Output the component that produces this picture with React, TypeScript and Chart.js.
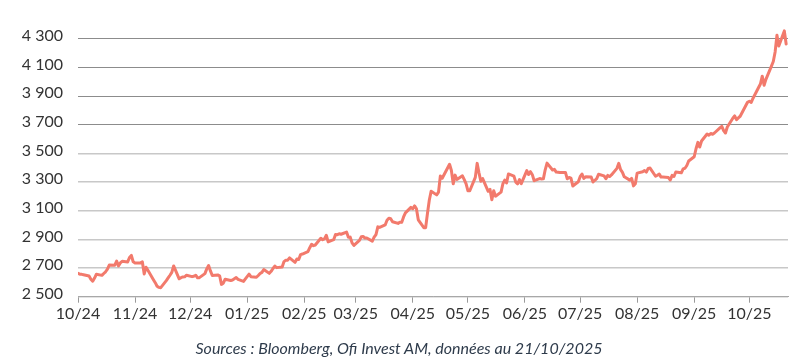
import React, { useEffect, useRef } from "react";
import { Chart, registerables } from "chart.js";

Chart.register(...registerables);

// Trading days (YYYY-MM-DD)
const tradingDays: string[] = [
  // 2024-10
  "2024-10-01","2024-10-02","2024-10-03","2024-10-04","2024-10-07","2024-10-08","2024-10-09","2024-10-10","2024-10-11","2024-10-14","2024-10-15","2024-10-16","2024-10-17","2024-10-18","2024-10-21","2024-10-22","2024-10-23","2024-10-24","2024-10-25","2024-10-28","2024-10-29","2024-10-30","2024-10-31",
  // 2024-11
  "2024-11-01","2024-11-04","2024-11-05","2024-11-06","2024-11-07","2024-11-08","2024-11-11","2024-11-12","2024-11-13","2024-11-14","2024-11-15","2024-11-18","2024-11-19","2024-11-20","2024-11-21","2024-11-22","2024-11-25","2024-11-26","2024-11-27","2024-11-28","2024-11-29",
  // 2024-12
  "2024-12-02","2024-12-03","2024-12-04","2024-12-05","2024-12-06","2024-12-09","2024-12-10","2024-12-11","2024-12-12","2024-12-13","2024-12-16","2024-12-17","2024-12-18","2024-12-19","2024-12-20","2024-12-23","2024-12-24","2024-12-26","2024-12-27","2024-12-30","2024-12-31",
  // 2025-01
  "2025-01-02","2025-01-03","2025-01-06","2025-01-07","2025-01-08","2025-01-09","2025-01-10","2025-01-13","2025-01-14","2025-01-15","2025-01-16","2025-01-17","2025-01-20","2025-01-21","2025-01-22","2025-01-23","2025-01-24","2025-01-27","2025-01-28","2025-01-29","2025-01-30","2025-01-31",
  // 2025-02
  "2025-02-03","2025-02-04","2025-02-05","2025-02-06","2025-02-07","2025-02-10","2025-02-11","2025-02-12","2025-02-13","2025-02-14","2025-02-17","2025-02-18","2025-02-19","2025-02-20","2025-02-21","2025-02-24","2025-02-25","2025-02-26","2025-02-27","2025-02-28",
  // 2025-03
  "2025-03-03","2025-03-04","2025-03-05","2025-03-06","2025-03-07","2025-03-10","2025-03-11","2025-03-12","2025-03-13","2025-03-14","2025-03-17","2025-03-18","2025-03-19","2025-03-20","2025-03-21","2025-03-24","2025-03-25","2025-03-26","2025-03-27","2025-03-28","2025-03-31",
  // 2025-04
  "2025-04-01","2025-04-02","2025-04-03","2025-04-04","2025-04-07","2025-04-08","2025-04-09","2025-04-10","2025-04-11","2025-04-14","2025-04-15","2025-04-16","2025-04-17","2025-04-21","2025-04-22","2025-04-23","2025-04-24","2025-04-25","2025-04-28","2025-04-29","2025-04-30",
  // 2025-05
  "2025-05-01","2025-05-02","2025-05-05","2025-05-06","2025-05-07","2025-05-08","2025-05-09","2025-05-12","2025-05-13","2025-05-14","2025-05-15","2025-05-16","2025-05-19","2025-05-20","2025-05-21","2025-05-22","2025-05-23","2025-05-26","2025-05-27","2025-05-28","2025-05-29","2025-05-30",
  // 2025-06
  "2025-06-02","2025-06-03","2025-06-04","2025-06-05","2025-06-06","2025-06-09","2025-06-10","2025-06-11","2025-06-12","2025-06-13","2025-06-16","2025-06-17","2025-06-18","2025-06-19","2025-06-20","2025-06-23","2025-06-24","2025-06-25","2025-06-26","2025-06-27","2025-06-30",
  // 2025-07
  "2025-07-01","2025-07-02","2025-07-03","2025-07-04","2025-07-07","2025-07-08","2025-07-09","2025-07-10","2025-07-11","2025-07-14","2025-07-15","2025-07-16","2025-07-17","2025-07-18","2025-07-21","2025-07-22","2025-07-23","2025-07-24","2025-07-25","2025-07-28","2025-07-29","2025-07-30","2025-07-31",
  // 2025-08
  "2025-08-01","2025-08-04","2025-08-05","2025-08-06","2025-08-07","2025-08-08","2025-08-11","2025-08-12","2025-08-13","2025-08-14","2025-08-15","2025-08-18","2025-08-19","2025-08-20","2025-08-21","2025-08-22","2025-08-25","2025-08-26","2025-08-27","2025-08-28","2025-08-29",
  // 2025-09
  "2025-09-01","2025-09-02","2025-09-03","2025-09-04","2025-09-05","2025-09-08","2025-09-09","2025-09-10","2025-09-11","2025-09-12","2025-09-15","2025-09-16","2025-09-17","2025-09-18","2025-09-19","2025-09-22","2025-09-23","2025-09-24","2025-09-25","2025-09-26","2025-09-29","2025-09-30",
  // 2025-10
  "2025-10-01","2025-10-02","2025-10-03","2025-10-06","2025-10-07","2025-10-08","2025-10-09","2025-10-10","2025-10-13","2025-10-14","2025-10-15","2025-10-16","2025-10-17","2025-10-20","2025-10-21",
];

// Gold price (USD/oz), one value per trading day above
const goldPrices: number[] = [
  // 2024-10
  2663,2657,2656,2653,2644,2622,2608,2630,2657,2649,2662,2674,2693,2721,2720,2749,2715,2736,2747,2743,2774,2788,2744,
  // 2024-11
  2736,2736,2743,2659,2706,2685,2619,2598,2573,2565,2563,2612,2631,2650,2670,2715,2625,2633,2638,2639,2650,
  // 2024-12
  2640,2643,2650,2632,2633,2661,2694,2718,2680,2648,2652,2646,2586,2594,2622,2613,2617,2634,2621,2607,2625,
  // 2025-01
  2658,2640,2636,2648,2662,2670,2690,2663,2677,2697,2714,2703,2708,2745,2755,2755,2771,2740,2763,2760,2794,2798,
  // 2025-02
  2815,2842,2866,2856,2861,2908,2898,2904,2929,2883,2898,2935,2933,2939,2936,2951,2915,2916,2876,2858,
  // 2025-03
  2893,2918,2920,2910,2910,2888,2916,2934,2988,2984,3001,3034,3048,3044,3023,3012,3020,3019,3057,3085,3124,
  // 2025-04
  3114,3134,3114,3037,2982,2982,3083,3175,3237,3211,3230,3343,3327,3425,3381,3288,3349,3319,3344,3317,3288,
  // 2025-05
  3239,3240,3333,3431,3365,3306,3325,3236,3249,3177,3240,3202,3230,3289,3314,3294,3357,3342,3300,3288,3318,3289,
  // 2025-06
  3380,3353,3373,3352,3310,3325,3322,3323,3386,3433,3385,3389,3370,3369,3368,3368,3323,3333,3328,3273,3303,
  // 2025-07
  3338,3357,3326,3337,3336,3301,3313,3324,3355,3344,3324,3347,3339,3350,3396,3431,3387,3368,3337,3314,3326,3274,3289,
  // 2025-08
  3363,3373,3381,3370,3396,3398,3341,3348,3356,3335,3336,3332,3315,3347,3339,3371,3365,3393,3397,3416,3448,
  // 2025-09
  3477,3533,3578,3545,3587,3636,3627,3640,3634,3643,3679,3690,3660,3643,3685,3746,3763,3736,3749,3760,3833,3858,
  // 2025-10
  3865,3857,3886,3961,3985,4040,3976,4018,4110,4142,4209,4326,4251,4356,4265,
];

const monthTickDates: string[] = [
  "2024-10-01","2024-11-01","2024-12-01","2025-01-01","2025-02-01","2025-03-01","2025-04-01",
  "2025-05-01","2025-06-01","2025-07-01","2025-08-01","2025-09-01","2025-10-01",
];
const monthTickLabels: string[] = [
  "10/24","11/24","12/24","01/25","02/25","03/25","04/25","05/25","06/25","07/25","08/25","09/25","10/25",
];
const yTickValues: number[] = [2500, 2700, 2900, 3100, 3300, 3500, 3700, 3900, 4100, 4300];

const START_DATE = "2024-10-01";
const END_DATE = "2025-10-22";
const Y_MIN = 2500;
const Y_MAX = 4400;

const SOURCE_TEXT = "Sources : Bloomberg, Ofi Invest AM, données au 21/10/2025";

const LINE_COLOR = "#f27a6c";
const FONT = "Lato, 'Open Sans', sans-serif";

function toUTC(s: string): number {
  const [y, m, d] = s.split("-").map(Number);
  return Date.UTC(y, m - 1, d);
}
function dayIndex(s: string): number {
  return Math.round((toUTC(s) - toUTC(START_DATE)) / 86400000);
}
function fmtThousands(v: number): string {
  const th = Math.floor(v / 1000);
  const rest = String(Math.round(v % 1000)).padStart(3, "0");
  return th > 0 ? `${th} ${rest}` : String(v);
}

export default function App() {
  const canvasRef = useRef<HTMLCanvasElement | null>(null);

  useEffect(() => {
    const canvas = canvasRef.current;
    if (!canvas) return;
    const points = tradingDays.map((d, i) => ({ x: dayIndex(d), y: goldPrices[i] }));
    const chart = new Chart(canvas, {
      type: "line",
      data: {
        datasets: [
          {
            data: points,
            borderColor: LINE_COLOR,
            borderWidth: 3,
            pointRadius: 0,
            pointHoverRadius: 0,
            tension: 0,
            fill: false,
            borderJoinStyle: "round",
            borderCapStyle: "round",
          },
        ],
      },
      options: {
        responsive: false,
        animation: false,
        devicePixelRatio: 1,
        layout: { padding: { top: 20, right: 20, left: 0, bottom: 0 } },
        plugins: { legend: { display: false }, tooltip: { enabled: false } },
        scales: {
          x: {
            type: "linear",
            min: 0,
            max: dayIndex(END_DATE),
            afterBuildTicks: (s: any) => {
              s.ticks = monthTickDates.map((m) => ({ value: dayIndex(m) }));
            },
            afterFit: (s: any) => {
              s.height = 67.3;
            },
            grid: {
              display: true,
              drawOnChartArea: false,
              drawTicks: true,
              tickLength: 6,
              tickColor: "#9a9a9a",
              tickWidth: 1,
            },
            border: { display: true, color: "#a8a8a8", width: 1 },
            ticks: {
              autoSkip: false,
              maxRotation: 0,
              minRotation: 0,
              padding: 2,
              color: "#333333",
              font: { family: FONT, size: 16 },
              callback: (_v: any, i: number) => monthTickLabels[i],
            },
          },
          y: {
            type: "linear",
            min: Y_MIN,
            max: Y_MAX,
            afterBuildTicks: (s: any) => {
              s.ticks = yTickValues.map((v) => ({ value: v }));
            },
            afterFit: (s: any) => {
              s.width = 78;
            },
            grid: {
              drawTicks: false,
              color: (c: any) => (c.tick && c.tick.value >= 3700 ? "#8c8c8c" : "#c8c8c8"),
              lineWidth: (c: any) => (c.tick && c.tick.value >= 3700 ? 1 : 1.5),
            },
            border: { display: false },
            ticks: {
              padding: 15,
              labelOffset: -3,
              color: "#333333",
              font: { family: FONT, size: 16 },
              callback: (v: any) => fmtThousands(Number(v)),
            },
          },
        },
      },
    });
    return () => chart.destroy();
  }, []);

  return (
    <div
      style={{
        position: "fixed",
        left: 0,
        top: 0,
        width: 808,
        height: 364,
        background: "#ffffff",
        overflow: "hidden",
      }}
    >
      <canvas ref={canvasRef} width={808} height={364} style={{ width: 808, height: 364, display: "block" }} />
      <div
        style={{
          position: "absolute",
          left: 0,
          top: 339,
          width: 798,
          textAlign: "center",
          fontFamily: FONT,
          fontStyle: "italic",
          fontSize: 16,
          lineHeight: "18px",
          color: "#2e3b4b",
          whiteSpace: "nowrap",
        }}
      >
        {SOURCE_TEXT}
      </div>
    </div>
  );
}
